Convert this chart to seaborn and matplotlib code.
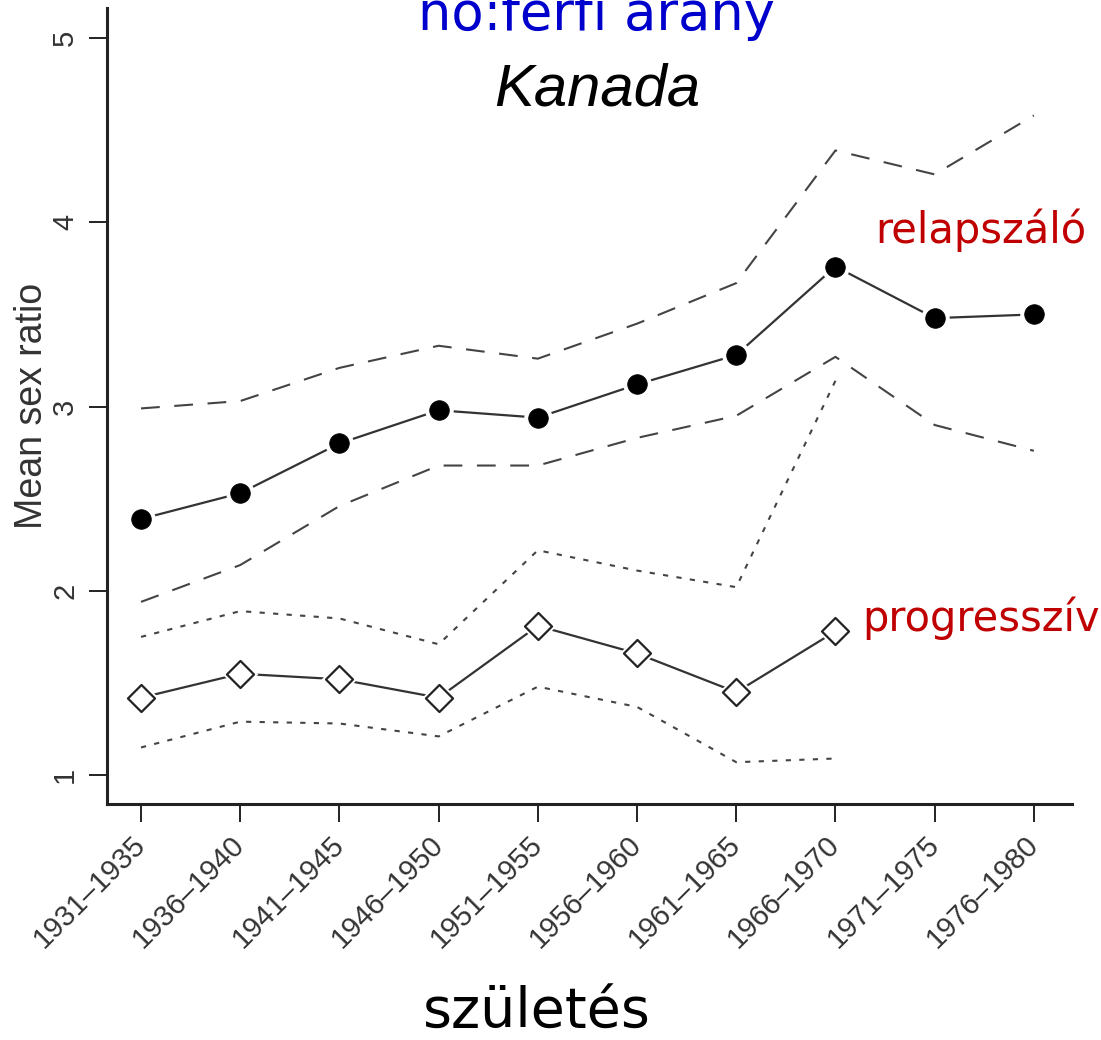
import numpy as np
import pandas as pd
import matplotlib
matplotlib.use("Agg")
import matplotlib.pyplot as plt
from matplotlib.transforms import ScaledTranslation
import seaborn as sns

# ---- data ----
cohorts = ["1931–1935", "1936–1940", "1941–1945", "1946–1950", "1951–1955",
           "1956–1960", "1961–1965", "1966–1970", "1971–1975", "1976–1980"]
relapsing_mean = [2.39, 2.53, 2.80, 2.98, 2.94, 3.12, 3.28, 3.76, 3.48, 3.50]
relapsing_upper = [2.99, 3.03, 3.21, 3.33, 3.26, 3.45, 3.67, 4.39, 4.26, 4.58]
relapsing_lower = [1.94, 2.14, 2.46, 2.68, 2.68, 2.83, 2.95, 3.27, 2.90, 2.76]
progressive_mean = [1.42, 1.55, 1.52, 1.42, 1.81, 1.66, 1.45, 1.78]
progressive_upper = [1.75, 1.89, 1.85, 1.71, 2.22, 2.11, 2.02, 3.14]
progressive_lower = [1.15, 1.29, 1.28, 1.21, 1.48, 1.37, 1.07, 1.09]
y_ticks = [1, 2, 3, 4, 5]

title_text = "nő:férfi arány"
country_text = "Kanada"
xlabel_text = "születés"
ylabel_text = "Mean sex ratio"
label_relapsing = "relapszáló"
label_progressive = "progresszív"

x_rel = np.arange(len(relapsing_mean))
x_prog = np.arange(len(progressive_mean))

sns.set_theme(style="ticks")
plt.rcParams['font.family'] = ['Liberation Sans', 'DejaVu Sans']

fig = plt.figure(figsize=(11.01, 10.40), dpi=100)
ax = fig.add_axes([0.0972, 0.2269, 0.8765, 0.7654])

line_col = "#333333"
ci_col = "#444444"

# CI lines
sns.lineplot(x=x_rel, y=relapsing_upper, ax=ax, color=ci_col, lw=1.5,
             estimator=None).lines[-1].set_dashes([9, 7])
sns.lineplot(x=x_rel, y=relapsing_lower, ax=ax, color=ci_col, lw=1.5,
             estimator=None).lines[-1].set_dashes([9, 7])
sns.lineplot(x=x_prog, y=progressive_upper, ax=ax, color=ci_col, lw=1.5,
             estimator=None).lines[-1].set_dashes([2.5, 4])
sns.lineplot(x=x_prog, y=progressive_lower, ax=ax, color=ci_col, lw=1.5,
             estimator=None).lines[-1].set_dashes([2.5, 4])

# mean lines
sns.lineplot(x=x_rel, y=relapsing_mean, ax=ax, color=line_col, lw=1.6, estimator=None)
sns.lineplot(x=x_prog, y=progressive_mean, ax=ax, color=line_col, lw=1.6, estimator=None)

# white halos then markers
sns.scatterplot(x=x_rel, y=relapsing_mean, ax=ax, marker="o", s=420,
                color="white", edgecolor="white", linewidth=0, zorder=3)
sns.scatterplot(x=x_rel, y=relapsing_mean, ax=ax, marker="o", s=200,
                color="black", edgecolor="black", linewidth=0.5, zorder=4)
sns.scatterplot(x=x_prog, y=progressive_mean, ax=ax, marker="D", s=330,
                color="white", edgecolor="white", linewidth=0, zorder=3)
sns.scatterplot(x=x_prog, y=progressive_mean, ax=ax, marker="D", s=190,
                color="white", edgecolor="#222222", linewidth=1.6, zorder=4)

ax.set_xlim(-0.343, 9.385)
ax.set_ylim(0.843, 5.163)
ax.set_xticks(x_rel)
ax.set_xticklabels(cohorts, rotation=45, ha="right", va="center",
                   rotation_mode="anchor", fontsize=21, color="#333333")
offset = ScaledTranslation(7 / 100, 0, fig.dpi_scale_trans)
for lbl in ax.get_xticklabels():
    lbl.set_transform(lbl.get_transform() + offset)
ax.set_yticks(y_ticks)
ax.set_yticklabels([str(v) for v in y_ticks], rotation=90, va="center",
                   fontsize=21, color="#333333")
ax.tick_params(axis="both", length=13, width=1.4, color="#222222")
ax.tick_params(axis="y", pad=7)
ax.tick_params(axis="x", pad=13)
ax.set_ylabel(ylabel_text, fontsize=27, color="#333333")
ax.yaxis.set_label_coords(-0.059, 0.5)
ax.set_xlabel("")

for s in ["top", "right"]:
    ax.spines[s].set_visible(False)
for s in ["left", "bottom"]:
    ax.spines[s].set_linewidth(2.2)
    ax.spines[s].set_color("#222222")

# texts
fig.text(0.542, 1 - 30 / 1040, title_text, ha="center", va="baseline",
         fontsize=38, color="#0000cc", family=["DejaVu Sans"])
fig.text(0.542, 1 - 105 / 1040, country_text, ha="center", va="baseline",
         fontsize=43, color="black", style="italic", family=["Liberation Sans"])
fig.text(875 / 1101, 1 - 243 / 1040, label_relapsing, ha="left", va="baseline",
         fontsize=30, color="#c00000", family=["DejaVu Sans"])
fig.text(862 / 1101, 1 - 631 / 1040, label_progressive, ha="left", va="baseline",
         fontsize=30, color="#c00000", family=["DejaVu Sans"])
fig.text(537 / 1101, 1 - 1028 / 1040, xlabel_text, ha="center", va="baseline",
         fontsize=40, color="black", family=["DejaVu Sans"])

fig.savefig("out.png", dpi=100)
